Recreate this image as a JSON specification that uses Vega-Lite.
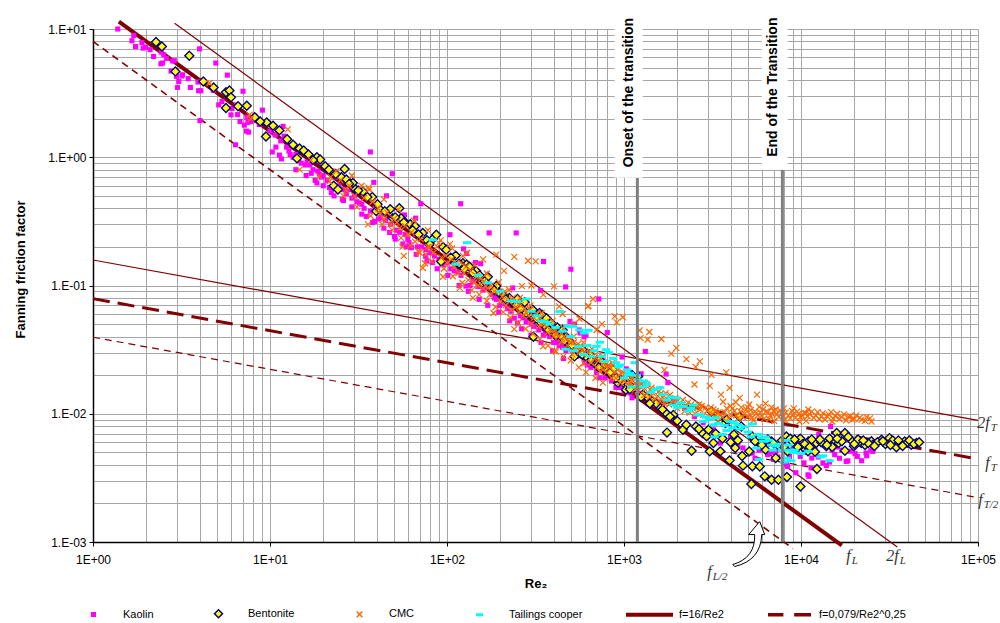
{
  "$schema": "https://vega.github.io/schema/vega-lite/v6.json",
  "width": 885,
  "height": 513,
  "autosize": {"type": "none"},
  "padding": {"left": 93, "top": 29, "right": 22, "bottom": 81},
  "background": "white",
  "config": {
    "view": {"stroke": null},
    "font": "Liberation Sans",
    "axis": {"labelFont": "Liberation Sans", "titleFont": "Liberation Sans", "labelColor": "black", "titleColor": "black"}
  },
  "datasets": {
    "lines": [
      {"g": "fL", "x": 1.4, "y": 11.43}, {"g": "fL", "x": 17000, "y": 0.000941},
      {"g": "f2L", "x": 2.89, "y": 11.07}, {"g": "f2L", "x": 35000, "y": 0.000914},
      {"g": "fhL", "x": 1, "y": 8}, {"g": "fhL", "x": 9000, "y": 0.000889},
      {"g": "fT", "x": 1, "y": 0.079}, {"g": "fT", "x": 100000, "y": 0.00444},
      {"g": "f2T", "x": 1, "y": 0.158}, {"g": "f2T", "x": 100000, "y": 0.00888},
      {"g": "fhT", "x": 1, "y": 0.0395}, {"g": "fhT", "x": 100000, "y": 0.00222}
    ],
    "k": [
      {"x":1.38,"y":10.0},{"x":1.70,"y":8.9},{"x":1.74,"y":7.3},{"x":1.66,"y":8.1},{"x":1.89,"y":7.84},{"x":1.92,"y":7.1},{"x":1.98,"y":7.23},{"x":2.10,"y":6.9},{"x":2.2,"y":6.1},{"x":2.42,"y":5.35},{"x":2.43,"y":6.6},{"x":2.51,"y":6.3},{"x":2.47,"y":5.43},{"x":2.6,"y":5.9},{"x":2.76,"y":4.7},{"x":2.82,"y":5.63},{"x":2.88,"y":5.66},{"x":2.96,"y":4.27},{"x":3.0,"y":3.5},{"x":3.05,"y":3.9},{"x":3.18,"y":4.3},{"x":3.2,"y":4.4},{"x":3.45,"y":4.1},{"x":3.55,"y":3.5},{"x":3.92,"y":3.86},{"x":3.95,"y":3.3},{"x":4.07,"y":3.3},{"x":4.0,"y":7.0},{"x":4.02,"y":1.93},{"x":4.1,"y":3.9},{"x":4.78,"y":3.32},{"x":4.94,"y":5.43},{"x":5.13,"y":2.56},{"x":5.35,"y":2.72},{"x":5.74,"y":4.37},{"x":6.02,"y":2.14},{"x":6.1,"y":2.4},{"x":6.39,"y":1.25},{"x":6.45,"y":2.56},{"x":6.56,"y":2.15},{"x":6.77,"y":1.9},{"x":7.04,"y":3.27},{"x":7.16,"y":1.78},{"x":7.37,"y":1.6},{"x":7.4,"y":2.05},{"x":7.5,"y":1.87},{"x":7.57,"y":1.57},{"x":7.8,"y":1.9},{"x":8.2,"y":2.1},{"x":8.7,"y":1.8},{"x":9.06,"y":2.33},{"x":10.0,"y":1.6},{"x":10.3,"y":1.1},{"x":10.7,"y":1.49},{"x":10.8,"y":1.2},{"x":11.3,"y":1.04},{"x":11.5,"y":1.34},{"x":11.6,"y":0.97},{"x":11.85,"y":1.74},{"x":12.0,"y":1.46},{"x":12.3,"y":1.37},{"x":12.4,"y":1.2},{"x":12.8,"y":1.12},{"x":13.5,"y":1.0},{"x":14.5,"y":0.95},{"x":15.8,"y":0.87},{"x":16.2,"y":0.92},{"x":16.8,"y":0.87},{"x":17.1,"y":0.75},{"x":18.4,"y":0.63},{"x":18.6,"y":0.78},{"x":19.5,"y":0.7},{"x":20,"y":0.72},{"x":21.7,"y":0.58},{"x":22.2,"y":0.53},{"x":23.9,"y":0.7},{"x":24.5,"y":0.6},{"x":25.6,"y":0.47},{"x":26,"y":0.56},{"x":27.6,"y":0.56},{"x":29,"y":0.48},{"x":30,"y":0.5},{"x":31,"y":0.45},{"x":33,"y":0.43},{"x":35,"y":0.345},{"x":36.9,"y":1.099},{"x":38.6,"y":0.637},{"x":39,"y":0.316},{"x":39.5,"y":0.41},{"x":42,"y":0.34},{"x":43,"y":0.36},{"x":45,"y":0.32},{"x":45.5,"y":0.5},{"x":47.4,"y":0.259},{"x":49.1,"y":0.744},{"x":50.5,"y":0.241},{"x":52,"y":0.27},{"x":56.3,"y":0.211},{"x":57.5,"y":0.355},{"x":58,"y":0.25},{"x":61,"y":0.216},{"x":63,"y":0.197},{"x":66.5,"y":0.335},{"x":66.8,"y":0.249},{"x":68,"y":0.2},{"x":71.1,"y":0.434},{"x":75.6,"y":0.169},{"x":76,"y":0.19},{"x":83,"y":0.151},{"x":85,"y":0.17},{"x":90,"y":0.16},{"x":100,"y":0.15},{"x":104,"y":0.249},{"x":110,"y":0.13},{"x":115,"y":0.128},{"x":119.5,"y":0.434},{"x":124,"y":0.193},{"x":128,"y":0.099},{"x":129,"y":0.178},{"x":135,"y":0.1},{"x":140,"y":0.108},{"x":145,"y":0.151},{"x":155,"y":0.148},{"x":160,"y":0.092},{"x":167,"y":0.098},{"x":173,"y":0.257},{"x":180,"y":0.085},{"x":185,"y":0.08},{"x":198,"y":0.0697},{"x":210,"y":0.072},{"x":230,"y":0.063},{"x":235,"y":0.0957},{"x":240,"y":0.0556},{"x":246,"y":0.257},{"x":250,"y":0.051},{"x":270,"y":0.056},{"x":280,"y":0.052},{"x":300,"y":0.05},{"x":330,"y":0.045},{"x":338,"y":0.0914},{"x":351,"y":0.154},{"x":360,"y":0.042},{"x":380,"y":0.04},{"x":400,"y":0.036},{"x":420,"y":0.036},{"x":450,"y":0.033},{"x":468,"y":0.0974},{"x":470,"y":0.031},{"x":495,"y":0.0525},{"x":501,"y":0.134},{"x":525,"y":0.05},{"x":540,"y":0.028},{"x":560,"y":0.045},{"x":565,"y":0.0426},{"x":595,"y":0.0398},{"x":600,"y":0.025},{"x":610,"y":0.041},{"x":650,"y":0.023},{"x":720,"y":0.0785},{"x":730,"y":0.0191},{"x":805,"y":0.043},{"x":850,"y":0.018},{"x":900,"y":0.016},{"x":975,"y":0.0277},{"x":1000,"y":0.015},{"x":1030,"y":0.0224},{"x":1110,"y":0.0133},{"x":1200,"y":0.0145},{"x":1250,"y":0.0205},{"x":1300,"y":0.0173},{"x":1320,"y":0.0306},{"x":1500,"y":0.0125},{"x":1650,"y":0.0115},{"x":1730,"y":0.0204},{"x":1770,"y":0.0175},{"x":1900,"y":0.013},{"x":2200,"y":0.011},{"x":2500,"y":0.0095},{"x":2800,"y":0.0085},{"x":3200,"y":0.0075},{"x":3500,"y":0.0059},{"x":4000,"y":0.0066},{"x":4400,"y":0.0058},{"x":4700,"y":0.00541},{"x":5300,"y":0.00492},{"x":5800,"y":0.0052},{"x":6000,"y":0.0062},{"x":6480,"y":0.0048},{"x":6500,"y":0.00577},{"x":7000,"y":0.0044},{"x":7200,"y":0.00509},{"x":7560,"y":0.00558},{"x":8000,"y":0.0058},{"x":8300,"y":0.004},{"x":8400,"y":0.00388},{"x":8600,"y":0.00465},{"x":9000,"y":0.0055},{"x":9350,"y":0.00347},{"x":9900,"y":0.00465},{"x":10400,"y":0.00414},{"x":10950,"y":0.00334},{"x":11100,"y":0.00325},{"x":11400,"y":0.00378},{"x":11500,"y":0.00451},{"x":12000,"y":0.0052},{"x":12600,"y":0.0069},{"x":13300,"y":0.00414},{"x":13900,"y":0.00394},{"x":14500,"y":0.0042},{"x":14700,"y":0.00795},{"x":15500,"y":0.0048},{"x":16000,"y":0.0055},{"x":17000,"y":0.0052},{"x":18000,"y":0.00425},{"x":18400,"y":0.00429},{"x":20200,"y":0.00488},{"x":20800,"y":0.00465},{"x":22000,"y":0.0043},{"x":23300,"y":0.00494},{"x":23500,"y":0.0047},{"x":24800,"y":0.00515},{"x":25500,"y":0.00509},
      {"x":13,"y":1.05},{"x":14,"y":1.05},{"x":15,"y":0.9},{"x":17.5,"y":0.8},{"x":19,"y":0.74},{"x":21,"y":0.66},{"x":23,"y":0.6},{"x":27,"y":0.52},{"x":32,"y":0.44},{"x":34,"y":0.4},{"x":37,"y":0.38},{"x":41,"y":0.33},{"x":48,"y":0.3},{"x":54,"y":0.26},{"x":60,"y":0.23},{"x":72,"y":0.2},{"x":80,"y":0.18},{"x":95,"y":0.145},{"x":105,"y":0.135},{"x":120,"y":0.12},{"x":150,"y":0.098},{"x":190,"y":0.078},{"x":220,"y":0.066},{"x":260,"y":0.058},{"x":310,"y":0.048},{"x":350,"y":0.041},{"x":430,"y":0.034},{"x":520,"y":0.029},{"x":620,"y":0.024},{"x":700,"y":0.021},{"x":780,"y":0.019},{"x":950,"y":0.016},{"x":1080,"y":0.0145},{"x":5500,"y":0.0045},{"x":6200,"y":0.0054},{"x":6800,"y":0.005},{"x":7400,"y":0.0046},{"x":9500,"y":0.0051},{"x":10500,"y":0.0057},{"x":12500,"y":0.0046},{"x":15000,"y":0.0052},{"x":19000,"y":0.0051},{"x":16500,"y":0.0045},
      {"x":14,"y":0.8},{"x":16,"y":0.72},{"x":18,"y":0.66},{"x":20,"y":0.6},{"x":23,"y":0.5},{"x":26,"y":0.46},{"x":29,"y":0.41},{"x":33,"y":0.36},{"x":38,"y":0.31},{"x":44,"y":0.28},{"x":51,"y":0.23},{"x":59,"y":0.2},{"x":67,"y":0.175},{"x":77,"y":0.155},{"x":88,"y":0.135},{"x":101,"y":0.12},{"x":117,"y":0.1},{"x":132,"y":0.09},{"x":152,"y":0.078},{"x":170,"y":0.07},{"x":196,"y":0.062},{"x":226,"y":0.053},{"x":264,"y":0.046},{"x":298,"y":0.041},{"x":340,"y":0.036},{"x":395,"y":0.031},{"x":455,"y":0.027}
    ],
    "b": [
      {"x":2.27,"y":7.92},{"x":2.45,"y":7.31},{"x":2.92,"y":4.67},{"x":3.5,"y":6.19},{"x":5.64,"y":3.21},{"x":5.9,"y":3.32},{"x":6.02,"y":2.93},{"x":5.64,"y":2.42},{"x":7.39,"y":2.52},{"x":9.58,"y":1.87},{"x":10.4,"y":1.76},{"x":11.3,"y":1.62},{"x":9.49,"y":1.45},{"x":14.7,"y":1.17},{"x":15.5,"y":1.13},{"x":14.2,"y":0.98},{"x":18.4,"y":1.0},{"x":19.2,"y":0.96},{"x":22.9,"y":0.6},{"x":24.2,"y":0.56},{"x":25.3,"y":0.7},{"x":26.4,"y":0.81},{"x":27,"y":0.67},{"x":29.4,"y":0.63},{"x":30.4,"y":0.56},{"x":33.5,"y":0.54},{"x":37.8,"y":0.49},{"x":39.8,"y":0.38},{"x":42,"y":0.39},{"x":47.8,"y":0.394},{"x":49.4,"y":0.335},{"x":53.8,"y":0.40},{"x":55,"y":0.335},{"x":58,"y":0.31},{"x":62,"y":0.30},{"x":66,"y":0.29},{"x":73,"y":0.257},{"x":83,"y":0.23},{"x":87,"y":0.249},{"x":92.6,"y":0.154},{"x":95,"y":0.2},{"x":99,"y":0.19},{"x":112,"y":0.171},{"x":123,"y":0.149},{"x":129,"y":0.146},{"x":134,"y":0.14},{"x":146,"y":0.13},{"x":153,"y":0.12},{"x":158,"y":0.105},{"x":170,"y":0.117},{"x":190,"y":0.099},{"x":198,"y":0.0875},{"x":225,"y":0.08},{"x":250,"y":0.0785},{"x":275,"y":0.074},{"x":305,"y":0.0647},{"x":308,"y":0.0398},{"x":333,"y":0.061},{"x":345,"y":0.059},{"x":365,"y":0.0556},{"x":388,"y":0.0509},{"x":420,"y":0.047},{"x":432,"y":0.0426},{"x":450,"y":0.045},{"x":470,"y":0.0398},{"x":490,"y":0.037},{"x":525,"y":0.028},{"x":560,"y":0.03},{"x":583,"y":0.0316},{"x":640,"y":0.0289},{"x":700,"y":0.024},{"x":730,"y":0.0264},{"x":765,"y":0.024},{"x":800,"y":0.0215},{"x":865,"y":0.0221},{"x":925,"y":0.0174},{"x":1000,"y":0.0175},{"x":1025,"y":0.0154},{"x":1110,"y":0.0201},{"x":1200,"y":0.0195},{"x":1280,"y":0.0141},{"x":1450,"y":0.0125},{"x":1600,"y":0.0112},{"x":1730,"y":0.0101},{"x":1750,"y":0.00713},{"x":1900,"y":0.0098},{"x":2150,"y":0.0075},{"x":2410,"y":0.00515},{"x":2550,"y":0.00795},{"x":2780,"y":0.00705},{"x":2930,"y":0.00666},{"x":3050,"y":0.00509},{"x":3120,"y":0.0104},{"x":3200,"y":0.00591},{"x":3400,"y":0.0094},{"x":3500,"y":0.00509},{"x":3740,"y":0.00847},{"x":3800,"y":0.009},{"x":3950,"y":0.00433},{"x":4180,"y":0.00688},{"x":4250,"y":0.00541},{"x":4500,"y":0.0095},{"x":4600,"y":0.00795},{"x":4650,"y":0.00469},{"x":4700,"y":0.00394},{"x":5100,"y":0.00509},{"x":5245,"y":0.00283},{"x":5300,"y":0.00666},{"x":5310,"y":0.0039},{"x":5800,"y":0.00591},{"x":5850,"y":0.00388},{"x":6240,"y":0.00325},{"x":6300,"y":0.00525},{"x":6800,"y":0.00609},{"x":6820,"y":0.00306},{"x":7200,"y":0.00451},{"x":7450,"y":0.00306},{"x":7550,"y":0.00558},{"x":8270,"y":0.00666},{"x":8330,"y":0.00321},{"x":8400,"y":0.00509},{"x":8700,"y":0.0064},{"x":9350,"y":0.00591},{"x":9930,"y":0.00271},{"x":9900,"y":0.0064},{"x":10200,"y":0.0058},{"x":10600,"y":0.00525},{"x":10950,"y":0.00509},{"x":11000,"y":0.00609},{"x":12200,"y":0.00591},{"x":12300,"y":0.00371},{"x":12000,"y":0.00505},{"x":13900,"y":0.00558},{"x":15600,"y":0.00599},{"x":15900,"y":0.00708},{"x":16300,"y":0.00591},{"x":17700,"y":0.00708},{"x":17700,"y":0.00515},{"x":19500,"y":0.00609},{"x":19900,"y":0.00558},{"x":21900,"y":0.00591},{"x":23000,"y":0.0057},{"x":25000,"y":0.0061},{"x":25500,"y":0.00574},{"x":28500,"y":0.00627},{"x":31600,"y":0.00646},{"x":34600,"y":0.00547},{"x":38500,"y":0.00609},{"x":42000,"y":0.00574},{"x":44900,"y":0.00591},
      {"x":16.5,"y":1.05},{"x":17.5,"y":0.95},{"x":20.5,"y":0.85},{"x":21.5,"y":0.8},{"x":23.5,"y":0.74},{"x":28,"y":0.62},{"x":31.5,"y":0.55},{"x":35.5,"y":0.49},{"x":40.5,"y":0.43},{"x":44.5,"y":0.38},{"x":51,"y":0.34},{"x":57,"y":0.31},{"x":64,"y":0.27},{"x":69,"y":0.25},{"x":77,"y":0.225},{"x":80,"y":0.21},{"x":105,"y":0.165},{"x":117,"y":0.148},{"x":140,"y":0.125},{"x":163,"y":0.108},{"x":178,"y":0.097},{"x":210,"y":0.083},{"x":238,"y":0.073},{"x":262,"y":0.066},{"x":290,"y":0.06},{"x":320,"y":0.055},{"x":355,"y":0.049},{"x":400,"y":0.044},{"x":440,"y":0.04},{"x":510,"y":0.034},{"x":545,"y":0.032},{"x":610,"y":0.028},{"x":670,"y":0.026},{"x":830,"y":0.021},{"x":950,"y":0.0185},{"x":1060,"y":0.017},{"x":1150,"y":0.016},{"x":1350,"y":0.0135},{"x":1520,"y":0.012},{"x":1650,"y":0.0108},{"x":1820,"y":0.0095},{"x":2000,"y":0.0088},{"x":2250,"y":0.0082},{"x":2650,"y":0.0076},
      {"x":5500,"y":0.0061},{"x":6000,"y":0.0057},{"x":6500,"y":0.0063},{"x":7000,"y":0.0059},{"x":7800,"y":0.0062},{"x":8000,"y":0.0055},{"x":9000,"y":0.006},{"x":9600,"y":0.0055},{"x":10500,"y":0.0058},{"x":11500,"y":0.0063},{"x":13000,"y":0.006},{"x":14500,"y":0.0064},{"x":15000,"y":0.0055},{"x":17000,"y":0.0061},{"x":18500,"y":0.0066},{"x":21000,"y":0.0063},{"x":24000,"y":0.0059},{"x":27000,"y":0.006},{"x":30000,"y":0.0058},{"x":33000,"y":0.0062},{"x":36500,"y":0.0058},{"x":40000,"y":0.006},{"x":3600,"y":0.0064},{"x":4000,"y":0.006},{"x":4400,"y":0.0062},{"x":3000,"y":0.0075},{"x":3300,"y":0.007},
      {"x":4.2,"y":3.9},{"x":4.8,"y":3.5},{"x":6.6,"y":2.5},{"x":8.2,"y":2.05},{"x":8.8,"y":1.9},{"x":12.5,"y":1.38},{"x":13.5,"y":1.25},{"x":125,"y":0.135},{"x":185,"y":0.092},{"x":215,"y":0.078},{"x":245,"y":0.07},{"x":280,"y":0.061},{"x":340,"y":0.051},{"x":375,"y":0.045},{"x":410,"y":0.041},{"x":460,"y":0.037},{"x":580,"y":0.029},{"x":650,"y":0.026},{"x":720,"y":0.023},{"x":900,"y":0.019},{"x":1080,"y":0.0155},{"x":1250,"y":0.0135},{"x":1400,"y":0.012},
      {"x":20000,"y":0.0058},{"x":22500,"y":0.0062},{"x":26000,"y":0.0056},{"x":29000,"y":0.0061},{"x":32000,"y":0.0057},{"x":35500,"y":0.0062},{"x":37500,"y":0.0056},{"x":41000,"y":0.0062},{"x":43500,"y":0.0058},{"x":46500,"y":0.006},{"x":12800,"y":0.0063},{"x":14000,"y":0.0057},{"x":16000,"y":0.0064},{"x":11200,"y":0.0055},{"x":9200,"y":0.0063}
    ],
    "c": [
      {"x":4.55,"y":3.79},{"x":7.66,"y":2.14},{"x":7.8,"y":2.0},{"x":12.6,"y":1.65},{"x":14.7,"y":0.8},{"x":17,"y":0.95},{"x":19,"y":0.71},{"x":21.7,"y":0.65},{"x":23.7,"y":0.78},{"x":27,"y":0.55},{"x":32.9,"y":0.6},{"x":35.8,"y":0.30},{"x":36.3,"y":0.56},{"x":40.8,"y":0.40},{"x":44,"y":0.33},{"x":48,"y":0.3},{"x":52,"y":0.31},{"x":56,"y":0.2},{"x":57,"y":0.17},{"x":60,"y":0.25},{"x":69,"y":0.185},{"x":73,"y":0.137},{"x":75,"y":0.149},{"x":76,"y":0.174},{"x":80,"y":0.2},{"x":90,"y":0.215},{"x":95,"y":0.117},{"x":100,"y":0.15},{"x":104,"y":0.21},{"x":110,"y":0.14},{"x":118,"y":0.0957},{"x":120,"y":0.15},{"x":125,"y":0.125},{"x":132,"y":0.11},{"x":140,"y":0.08},{"x":145,"y":0.12},{"x":150,"y":0.1},{"x":160,"y":0.095},{"x":165,"y":0.1},{"x":175,"y":0.085},{"x":183,"y":0.061},{"x":190,"y":0.174},{"x":195,"y":0.09},{"x":200,"y":0.075},{"x":215,"y":0.07},{"x":220,"y":0.078},{"x":230,"y":0.064},{"x":240,"y":0.167},{"x":240,"y":0.0457},{"x":255,"y":0.062},{"x":260,"y":0.07},{"x":265,"y":0.0989},{"x":270,"y":0.058},{"x":280,"y":0.062},{"x":287,"y":0.156},{"x":300,"y":0.05},{"x":310,"y":0.056},{"x":317,"y":0.154},{"x":330,"y":0.048},{"x":340,"y":0.05},{"x":349,"y":0.0335},{"x":360,"y":0.052},{"x":370,"y":0.043},{"x":390,"y":0.044},{"x":400,"y":0.04},{"x":402,"y":0.0984},{"x":413,"y":0.0306},{"x":420,"y":0.042},{"x":430,"y":0.0687},{"x":440,"y":0.036},{"x":460,"y":0.04},{"x":480,"y":0.034},{"x":500,"y":0.036},{"x":510,"y":0.029},{"x":530,"y":0.031},{"x":540,"y":0.033},{"x":560,"y":0.03},{"x":580,"y":0.031},{"x":595,"y":0.0247},{"x":620,"y":0.029},{"x":625,"y":0.0687},{"x":630,"y":0.0693},{"x":650,"y":0.025},{"x":668,"y":0.0785},{"x":680,"y":0.027},{"x":700,"y":0.023},{"x":720,"y":0.026},{"x":730,"y":0.0214},{"x":760,"y":0.022},{"x":780,"y":0.024},{"x":800,"y":0.021},{"x":830,"y":0.023},{"x":850,"y":0.019},{"x":880,"y":0.021},{"x":886,"y":0.0574},{"x":900,"y":0.019},{"x":910,"y":0.0516},{"x":940,"y":0.02},{"x":950,"y":0.0175},{"x":984,"y":0.0566},{"x":1000,"y":0.018},{"x":1020,"y":0.019},{"x":1050,"y":0.017},{"x":1080,"y":0.0175},{"x":1100,"y":0.0165},{"x":1130,"y":0.018},{"x":1150,"y":0.0155},{"x":1180,"y":0.0165},{"x":1200,"y":0.015},{"x":1227,"y":0.0447},{"x":1240,"y":0.039},{"x":1250,"y":0.016},{"x":1300,"y":0.014},{"x":1320,"y":0.0155},{"x":1360,"y":0.0379},{"x":1390,"y":0.0434},{"x":1400,"y":0.0135},{"x":1450,"y":0.0145},{"x":1500,"y":0.013},{"x":1550,"y":0.0138},{"x":1600,"y":0.0125},{"x":1626,"y":0.0383},{"x":1650,"y":0.0135},{"x":1690,"y":0.022},{"x":1700,"y":0.012},{"x":1750,"y":0.013},{"x":1800,"y":0.0118},{"x":1850,"y":0.0294},{"x":1900,"y":0.0125},{"x":1977,"y":0.0326},{"x":2000,"y":0.011},{"x":2050,"y":0.012},{"x":2100,"y":0.0115},{"x":2200,"y":0.0105},{"x":2250,"y":0.0115},{"x":2252,"y":0.0267},{"x":2350,"y":0.0102},{"x":2450,"y":0.011},{"x":2500,"y":0.0169},{"x":2520,"y":0.01},{"x":2540,"y":0.0232},{"x":2600,"y":0.0112},{"x":2680,"y":0.0256},{"x":2700,"y":0.0108},{"x":2800,"y":0.0098},{"x":2900,"y":0.0112},{"x":3000,"y":0.0095},{"x":3050,"y":0.0165},{"x":3120,"y":0.0201},{"x":3200,"y":0.0108},{"x":3400,"y":0.0102},{"x":3530,"y":0.0141},{"x":3600,"y":0.0094},{"x":3630,"y":0.0124},{"x":3780,"y":0.021},{"x":3800,"y":0.011},{"x":3950,"y":0.0159},{"x":4000,"y":0.0099},{"x":4200,"y":0.0105},{"x":4280,"y":0.0123},{"x":4400,"y":0.0092},{"x":4500,"y":0.0133},{"x":4600,"y":0.0112},{"x":4800,"y":0.01},{"x":5000,"y":0.0095},{"x":5100,"y":0.0118},{"x":5200,"y":0.0107},{"x":5400,"y":0.0089},{"x":5600,"y":0.0101},{"x":5640,"y":0.0141},{"x":5800,"y":0.0113},{"x":6000,"y":0.0096},{"x":6300,"y":0.012},{"x":6350,"y":0.0104},{"x":6600,"y":0.0091},{"x":6900,"y":0.0099},{"x":7200,"y":0.0108},{"x":7500,"y":0.0094},{"x":7800,"y":0.0101},{"x":8100,"y":0.0089},{"x":8500,"y":0.0097},{"x":8900,"y":0.0105},{"x":9100,"y":0.011},{"x":9300,"y":0.0093},{"x":9700,"y":0.01},{"x":10200,"y":0.0096},{"x":10650,"y":0.0101},{"x":10700,"y":0.0088},{"x":11200,"y":0.0099},{"x":11800,"y":0.0093},{"x":12400,"y":0.0103},{"x":13000,"y":0.0095},{"x":13700,"y":0.009},{"x":14400,"y":0.0098},{"x":15200,"y":0.0092},{"x":16000,"y":0.01},{"x":17000,"y":0.0094},{"x":18000,"y":0.0089},{"x":19000,"y":0.0096},{"x":20000,"y":0.0091},{"x":21500,"y":0.0093},{"x":23000,"y":0.0088},{"x":24500,"y":0.0092},
      {"x":22,"y":0.7},{"x":25,"y":0.66},{"x":28,"y":0.6},{"x":30,"y":0.5},{"x":34,"y":0.48},{"x":38,"y":0.45},{"x":42,"y":0.36},{"x":46,"y":0.37},{"x":50,"y":0.33},{"x":54,"y":0.28},{"x":58,"y":0.29},{"x":63,"y":0.26},{"x":66,"y":0.22},{"x":71,"y":0.23},{"x":78,"y":0.2},{"x":84,"y":0.18},{"x":88,"y":0.2},{"x":93,"y":0.165},{"x":98,"y":0.17},{"x":106,"y":0.16},{"x":113,"y":0.15},{"x":116,"y":0.125},{"x":128,"y":0.14},{"x":136,"y":0.13},{"x":142,"y":0.105},{"x":148,"y":0.118},{"x":155,"y":0.112},{"x":162,"y":0.108},{"x":170,"y":0.095},{"x":178,"y":0.1},{"x":186,"y":0.09},{"x":205,"y":0.082},{"x":212,"y":0.09},{"x":225,"y":0.075},{"x":235,"y":0.08},{"x":245,"y":0.068},{"x":250,"y":0.075},{"x":275,"y":0.066},{"x":290,"y":0.058},{"x":295,"y":0.065},{"x":320,"y":0.06},{"x":335,"y":0.056},{"x":350,"y":0.05},{"x":365,"y":0.048},{"x":380,"y":0.05},{"x":410,"y":0.045},{"x":425,"y":0.04},{"x":445,"y":0.042},{"x":470,"y":0.038},{"x":490,"y":0.039},{"x":520,"y":0.036},{"x":550,"y":0.035},{"x":570,"y":0.033},{"x":600,"y":0.03},{"x":640,"y":0.031},{"x":660,"y":0.028},{"x":690,"y":0.029},{"x":740,"y":0.027},{"x":770,"y":0.025},{"x":820,"y":0.024},{"x":860,"y":0.025},{"x":920,"y":0.022},{"x":970,"y":0.021},{"x":1060,"y":0.02},{"x":1120,"y":0.019},{"x":1280,"y":0.0175},{"x":1350,"y":0.017},{"x":1430,"y":0.016},{"x":1520,"y":0.0155},{"x":1580,"y":0.015},{"x":1720,"y":0.0145},{"x":1820,"y":0.014},{"x":1950,"y":0.0132},{"x":2150,"y":0.0128},{"x":2300,"y":0.0122},{"x":2400,"y":0.0118},{"x":2650,"y":0.0118},{"x":2750,"y":0.0115},{"x":2950,"y":0.0105},{"x":3100,"y":0.0112},{"x":3300,"y":0.0098},
      {"x":130,"y":0.18},{"x":160,"y":0.16},{"x":210,"y":0.13},{"x":300,"y":0.1},{"x":350,"y":0.085},{"x":450,"y":0.06},{"x":520,"y":0.05},{"x":560,"y":0.055},{"x":700,"y":0.045},{"x":750,"y":0.05},
      {"x":3150,"y":0.0099},{"x":3300,"y":0.0105},{"x":3500,"y":0.0099},{"x":3700,"y":0.0103},{"x":3900,"y":0.0092},{"x":4100,"y":0.011},{"x":4300,"y":0.0097},{"x":4550,"y":0.0104},{"x":4700,"y":0.0094},{"x":4900,"y":0.0108},{"x":5150,"y":0.0099},{"x":5300,"y":0.0093},{"x":5500,"y":0.0104},{"x":5700,"y":0.0097},{"x":5900,"y":0.0102},{"x":6100,"y":0.0108},{"x":6200,"y":0.0092},{"x":6500,"y":0.0103},{"x":6700,"y":0.0097},{"x":7000,"y":0.0105},{"x":7300,"y":0.0099},{"x":7600,"y":0.0106},{"x":7900,"y":0.0096},{"x":8200,"y":0.0102},{"x":8700,"y":0.0092},{"x":9000,"y":0.0099},{"x":9500,"y":0.0104},{"x":9900,"y":0.0094},{"x":10400,"y":0.0102},{"x":10900,"y":0.0096},{"x":11500,"y":0.0104},{"x":12100,"y":0.0097},{"x":12700,"y":0.0091},{"x":13300,"y":0.0101},{"x":14000,"y":0.0096},{"x":14800,"y":0.0103},{"x":15600,"y":0.0096},{"x":16500,"y":0.0091},{"x":17500,"y":0.0099},{"x":18500,"y":0.0095},{"x":19500,"y":0.009},{"x":20500,"y":0.0097},{"x":22000,"y":0.009},{"x":23500,"y":0.0094},{"x":25000,"y":0.0087},{"x":4000,"y":0.0115},{"x":5000,"y":0.0112},{"x":6800,"y":0.0112},{"x":8000,"y":0.011},{"x":11000,"y":0.0108},{"x":3400,"y":0.0087},{"x":7050,"y":0.0088},{"x":9800,"y":0.0087},{"x":15000,"y":0.0087},
      {"x":26,"y":0.5},{"x":31,"y":0.41},{"x":37,"y":0.35},{"x":43,"y":0.3},{"x":49,"y":0.27},{"x":55,"y":0.235},{"x":62,"y":0.205},{"x":70,"y":0.18},{"x":82,"y":0.155},{"x":96,"y":0.135},{"x":108,"y":0.118},{"x":122,"y":0.105},{"x":138,"y":0.092},{"x":152,"y":0.085},{"x":168,"y":0.076},{"x":188,"y":0.068},{"x":208,"y":0.062},{"x":228,"y":0.056},{"x":252,"y":0.051},{"x":278,"y":0.046},{"x":305,"y":0.042},{"x":335,"y":0.038},{"x":372,"y":0.034},{"x":405,"y":0.031},{"x":455,"y":0.028},{"x":500,"y":0.026},{"x":555,"y":0.023},{"x":610,"y":0.021},{"x":690,"y":0.019},{"x":760,"y":0.0175},
      {"x":29,"y":0.72},{"x":36,"y":0.58},{"x":44,"y":0.47},{"x":53,"y":0.39},{"x":65,"y":0.32},{"x":78,"y":0.27},{"x":92,"y":0.225},{"x":107,"y":0.195},{"x":123,"y":0.17},{"x":143,"y":0.145},{"x":168,"y":0.124},{"x":196,"y":0.106},{"x":224,"y":0.093},{"x":258,"y":0.08},{"x":296,"y":0.07},{"x":342,"y":0.061},{"x":395,"y":0.053},{"x":455,"y":0.046},{"x":520,"y":0.04},{"x":590,"y":0.036},{"x":660,"y":0.032},{"x":760,"y":0.028},{"x":870,"y":0.024},{"x":990,"y":0.021},{"x":1100,"y":0.0195},{"x":1250,"y":0.0172},{"x":1420,"y":0.0152},{"x":1600,"y":0.0142},{"x":1800,"y":0.0128},{"x":2000,"y":0.0125}
    ],
    "t": [
      {"x":83,"y":0.227},{"x":112,"y":0.147},{"x":130,"y":0.216},{"x":170,"y":0.105},{"x":200,"y":0.09},{"x":230,"y":0.076},{"x":280,"y":0.0785},{"x":300,"y":0.063},{"x":340,"y":0.053},{"x":380,"y":0.05},{"x":410,"y":0.047},{"x":433,"y":0.0628},{"x":468,"y":0.0319},{"x":480,"y":0.048},{"x":516,"y":0.048},{"x":520,"y":0.031},{"x":550,"y":0.0335},{"x":560,"y":0.045},{"x":590,"y":0.029},{"x":595,"y":0.0426},{"x":630,"y":0.0447},{"x":650,"y":0.028},{"x":680,"y":0.031},{"x":700,"y":0.0335},{"x":730,"y":0.0361},{"x":780,"y":0.0256},{"x":790,"y":0.0316},{"x":820,"y":0.03},{"x":870,"y":0.027},{"x":930,"y":0.0232},{"x":950,"y":0.024},{"x":1000,"y":0.019},{"x":1060,"y":0.0201},{"x":1080,"y":0.0207},{"x":1100,"y":0.0162},{"x":1150,"y":0.025},{"x":1200,"y":0.0184},{"x":1280,"y":0.0162},{"x":1350,"y":0.017},{"x":1420,"y":0.0147},{"x":1500,"y":0.0155},{"x":1650,"y":0.0141},{"x":1750,"y":0.0128},{"x":1900,"y":0.0117},{"x":1980,"y":0.0133},{"x":2000,"y":0.0112},{"x":2170,"y":0.0114},{"x":2300,"y":0.0105},{"x":2460,"y":0.0117},{"x":2600,"y":0.0098},{"x":2800,"y":0.0087},{"x":3050,"y":0.0091},{"x":3200,"y":0.0082},{"x":3250,"y":0.0066},{"x":3320,"y":0.0093},{"x":3600,"y":0.0069},{"x":3800,"y":0.0074},{"x":4000,"y":0.0087},{"x":4200,"y":0.0085},{"x":4500,"y":0.0076},{"x":4800,"y":0.0079},{"x":5330,"y":0.0083},{"x":5600,"y":0.0054},{"x":5800,"y":0.0044},{"x":6000,"y":0.0065},{"x":6300,"y":0.0066},{"x":6800,"y":0.0057},{"x":6900,"y":0.0052},{"x":7200,"y":0.0056},{"x":8000,"y":0.0042},{"x":8270,"y":0.0062},{"x":8300,"y":0.0045},{"x":8600,"y":0.0052},{"x":8800,"y":0.0043},{"x":9000,"y":0.005},{"x":9200,"y":0.0052},{"x":12900,"y":0.0046},{"x":13300,"y":0.0047},{"x":14500,"y":0.0043},
      {"x":150,"y":0.12},{"x":250,"y":0.075},{"x":320,"y":0.058},{"x":360,"y":0.052},{"x":450,"y":0.044},{"x":500,"y":0.04},{"x":620,"y":0.034},{"x":750,"y":0.028},{"x":900,"y":0.025},{"x":1040,"y":0.022},{"x":1180,"y":0.02},{"x":1300,"y":0.018},{"x":1600,"y":0.016},{"x":1850,"y":0.0135},{"x":2100,"y":0.0122},{"x":2400,"y":0.011},{"x":2700,"y":0.0098},{"x":2900,"y":0.0094},{"x":3400,"y":0.0084},{"x":3700,"y":0.0081},{"x":4100,"y":0.0078},{"x":4400,"y":0.0082},{"x":5000,"y":0.0072},{"x":5200,"y":0.0066},{"x":5700,"y":0.0069},{"x":6100,"y":0.0061},{"x":6600,"y":0.0062},{"x":7500,"y":0.0058},{"x":7800,"y":0.0052},{"x":8500,"y":0.0057},{"x":10000,"y":0.0049},{"x":11000,"y":0.0051}
    ],
    "boxes": [
      {"x": 886, "x2": 1275, "y": 14.66, "y2": 0.693},
      {"x": 5998, "x2": 8410, "y": 14.66, "y2": 0.80}
    ],
    "rules": [
      {"x": 1190, "y": 0.001, "y2": 0.69},
      {"x": 7850, "y": 0.001, "y2": 0.8}
    ],
    "notes": [
      {"t": "Onset of the transition", "x": 1063, "y": 3.19},
      {"t": "End of the Transition", "x": 6918, "y": 3.52}
    ],
    "curvelabels": [
      {"m": "2f", "s": "T", "x": 116400, "y": 0.00851},
      {"m": "f", "s": "T", "x": 116400, "y": 0.00415},
      {"m": "f", "s": "T/2", "x": 106300, "y": 0.00214},
      {"m": "f", "s": "L", "x": 19090, "y": 0.000782},
      {"m": "2f", "s": "L", "x": 35650, "y": 0.000782},
      {"m": "f", "s": "L/2", "x": 3130, "y": 0.000587}
    ],
    "arrow": [{"x": 5000, "y": 0.00099}]
  },
  "layer": [
    {
      "data": {"name": "lines"},
      "transform": [{"filter": "datum.g == 'fL'"}],
      "mark": {"type": "line", "color": "#800000", "strokeWidth": 4, "strokeCap": "butt"},
      "encoding": {
        "x": {
          "field": "x", "type": "quantitative",
          "scale": {"type": "log", "domain": [1, 100000], "nice": false},
          "axis": {
            "title": "Re₂",
            "titleFontSize": 13, "titleFontWeight": "bold", "titleY": 41, "titleBaseline": "middle",
            "values": [1,2,3,4,5,6,7,8,9,10,20,30,40,50,60,70,80,90,100,200,300,400,500,600,700,800,900,1000,2000,3000,4000,5000,6000,7000,8000,9000,10000,20000,30000,40000,50000,60000,70000,80000,90000,100000],
            "labelExpr": "datum.value == 1 ? '1E+00' : datum.value == 10 ? '1E+01' : datum.value == 100 ? '1E+02' : datum.value == 1000 ? '1E+03' : datum.value == 10000 ? '1E+04' : datum.value == 100000 ? '1E+05' : ''",
            "labelOverlap": false, "labelFlush": false, "labelBound": false,
            "labelFontSize": 12, "labelPadding": 8,
            "grid": true, "gridColor": "#a6a6a6", "gridWidth": 1,
            "domainColor": "black", "domainWidth": 1.5,
            "tickColor": "black", "tickSize": 4,
            "tickOpacity": {"condition": {"test": "indexof([1,10,100,1000,10000,100000], datum.value) >= 0", "value": 1}, "value": 0}
          }
        },
        "y": {
          "field": "y", "type": "quantitative",
          "scale": {"type": "log", "domain": [0.001, 10], "nice": false},
          "axis": {
            "title": "Fanning friction factor",
            "titleFontSize": 13, "titleFontWeight": "bold", "titleX": -73, "titleY": 240, "titleBaseline": "middle", "titleAngle": 270,
            "values": [0.001,0.002,0.003,0.004,0.005,0.006,0.007,0.008,0.009,0.01,0.02,0.03,0.04,0.05,0.06,0.07,0.08,0.09,0.1,0.2,0.3,0.4,0.5,0.6,0.7,0.8,0.9,1,2,3,4,5,6,7,8,9,10],
            "labelExpr": "datum.value == 10 ? '1.E+01' : datum.value == 1 ? '1.E+00' : datum.value == 0.1 ? '1.E-01' : datum.value == 0.01 ? '1.E-02' : datum.value == 0.001 ? '1.E-03' : ''",
            "labelOverlap": false, "labelFlush": false, "labelBound": false,
            "labelFontSize": 12, "labelPadding": 3,
            "grid": true, "gridColor": "#a6a6a6", "gridWidth": 1,
            "domainColor": "black", "domainWidth": 1.5,
            "tickColor": "black", "tickSize": 4,
            "tickOpacity": {"condition": {"test": "indexof([0.001,0.01,0.1,1,10], datum.value) >= 0", "value": 1}, "value": 0}
          }
        }
      }
    },
    {
      "data": {"name": "lines"},
      "transform": [{"filter": "datum.g == 'f2L'"}],
      "mark": {"type": "line", "color": "#800000", "strokeWidth": 1.2},
      "encoding": {"x": {"field": "x", "type": "quantitative"}, "y": {"field": "y", "type": "quantitative"}}
    },
    {
      "data": {"name": "lines"},
      "transform": [{"filter": "datum.g == 'fhL'"}],
      "mark": {"type": "line", "color": "#800000", "strokeWidth": 1.6, "strokeDash": [7, 5]},
      "encoding": {"x": {"field": "x", "type": "quantitative"}, "y": {"field": "y", "type": "quantitative"}}
    },
    {
      "data": {"name": "lines"},
      "transform": [{"filter": "datum.g == 'fT'"}],
      "mark": {"type": "line", "color": "#800000", "strokeWidth": 3, "strokeDash": [17, 8]},
      "encoding": {"x": {"field": "x", "type": "quantitative"}, "y": {"field": "y", "type": "quantitative"}}
    },
    {
      "data": {"name": "lines"},
      "transform": [{"filter": "datum.g == 'f2T'"}],
      "mark": {"type": "line", "color": "#800000", "strokeWidth": 1.2},
      "encoding": {"x": {"field": "x", "type": "quantitative"}, "y": {"field": "y", "type": "quantitative"}}
    },
    {
      "data": {"name": "lines"},
      "transform": [{"filter": "datum.g == 'fhT'"}],
      "mark": {"type": "line", "color": "#800000", "strokeWidth": 1.2, "strokeDash": [7, 5]},
      "encoding": {"x": {"field": "x", "type": "quantitative"}, "y": {"field": "y", "type": "quantitative"}}
    },
    {
      "data": {"name": "k"},
      "mark": {"type": "point", "shape": "square", "filled": true, "color": "#FF00FF", "size": 26, "opacity": 1},
      "encoding": {"x": {"field": "x", "type": "quantitative"}, "y": {"field": "y", "type": "quantitative"}}
    },
    {
      "data": {"name": "b"},
      "mark": {"type": "point", "shape": "diamond", "filled": true, "fill": "#FFFF00", "stroke": "#000080", "strokeWidth": 1.4, "size": 80, "opacity": 1},
      "encoding": {"x": {"field": "x", "type": "quantitative"}, "y": {"field": "y", "type": "quantitative"}}
    },
    {
      "data": {"name": "c"},
      "mark": {"type": "point", "shape": "M-1,-1L1,1M-1,1L1,-1", "filled": false, "stroke": "#FF6600", "strokeWidth": 1.2, "size": 36, "opacity": 1},
      "encoding": {"x": {"field": "x", "type": "quantitative"}, "y": {"field": "y", "type": "quantitative"}}
    },
    {
      "data": {"name": "t"},
      "mark": {"type": "point", "shape": "M-1,-0.35H1V0.35H-1Z", "filled": true, "fill": "#00FFFF", "strokeWidth": 0, "size": 70, "opacity": 1},
      "encoding": {"x": {"field": "x", "type": "quantitative"}, "y": {"field": "y", "type": "quantitative"}}
    },
    {
      "data": {"name": "rules"},
      "mark": {"type": "rule", "color": "#808080", "strokeWidth": 3},
      "encoding": {"x": {"field": "x", "type": "quantitative"}, "y": {"field": "y", "type": "quantitative"}, "y2": {"field": "y2"}}
    },
    {
      "data": {"name": "boxes"},
      "mark": {"type": "rect", "color": "white"},
      "encoding": {"x": {"field": "x", "type": "quantitative"}, "x2": {"field": "x2"}, "y": {"field": "y", "type": "quantitative"}, "y2": {"field": "y2"}}
    },
    {
      "data": {"name": "notes"},
      "mark": {"type": "text", "angle": 270, "align": "center", "baseline": "middle", "font": "Liberation Sans", "fontWeight": "bold", "fontSize": 14, "color": "black"},
      "encoding": {"x": {"field": "x", "type": "quantitative"}, "y": {"field": "y", "type": "quantitative"}, "text": {"field": "t"}}
    },
    {
      "data": {"name": "curvelabels"},
      "mark": {"type": "text", "align": "right", "baseline": "middle", "font": "Liberation Serif", "fontStyle": "italic", "fontSize": 16, "color": "#333333"},
      "encoding": {"x": {"field": "x", "type": "quantitative"}, "y": {"field": "y", "type": "quantitative"}, "text": {"field": "m"}}
    },
    {
      "data": {"name": "curvelabels"},
      "mark": {"type": "text", "align": "left", "baseline": "middle", "dx": 1, "dy": 5, "font": "Liberation Serif", "fontStyle": "italic", "fontSize": 11, "color": "#333333"},
      "encoding": {"x": {"field": "x", "type": "quantitative"}, "y": {"field": "y", "type": "quantitative"}, "text": {"field": "s"}}
    },
    {
      "data": {"name": "arrow"},
      "mark": {"type": "point", "shape": "M0.545,-0.955L0.773,-0.364L0.636,-0.364Q0.6,0.8,-0.59,1.09L-0.68,1.0Q0.35,0.7,0.318,-0.364L0.045,-0.364Z", "filled": true, "fill": "white", "stroke": "black", "strokeWidth": 1, "size": 1936, "opacity": 1},
      "encoding": {"x": {"field": "x", "type": "quantitative"}, "y": {"field": "y", "type": "quantitative"}}
    },
    {
      "data": {"values": []},
      "mark": {"type": "point", "filled": true, "opacity": 1, "strokeWidth": 1.5},
      "encoding": {
        "shape": {
          "field": "s", "type": "nominal",
          "scale": {
            "domain": ["Kaolin", "Bentonite", "CMC", "Tailings cooper", "f=16/Re2", "f=0,079/Re2^0,25"],
            "range": [
              "M-0.106,-0.106H0.106V0.106H-0.106Z",
              "M0,-0.17L0.17,0L0,0.17L-0.17,0Z",
              "M-0.12,-0.12L0.12,0.12M-0.12,0.12L0.12,-0.12",
              "M-0.15,-0.064H0.15V0.064H-0.15Z",
              "M-1,-0.085H1V0.085H-1Z",
              "M-0.915,-0.07H-0.26V0.07H-0.915Z M0.2,-0.07H0.915V0.07H0.2Z"
            ]
          },
          "legend": {
            "title": null, "orient": "none", "legendX": -24, "legendY": 560, "direction": "horizontal",
            "symbolSize": 2209, "symbolStrokeWidth": 1.5, "labelOffset": 5, "columnPadding": 40,
            "labelFont": "Liberation Sans", "labelFontSize": 11, "labelColor": "black", "symbolOpacity": 1
          }
        },
        "fill": {
          "field": "s", "type": "nominal",
          "scale": {
            "domain": ["Kaolin", "Bentonite", "CMC", "Tailings cooper", "f=16/Re2", "f=0,079/Re2^0,25"],
            "range": ["#FF00FF", "#FFFF00", "transparent", "#00FFFF", "#800000", "#800000"]
          },
          "legend": {
            "title": null, "orient": "none", "legendX": -24, "legendY": 560, "direction": "horizontal",
            "symbolSize": 2209, "symbolStrokeWidth": 1.5, "labelOffset": 5, "columnPadding": 40,
            "labelFont": "Liberation Sans", "labelFontSize": 11, "labelColor": "black", "symbolOpacity": 1
          }
        },
        "stroke": {
          "field": "s", "type": "nominal",
          "scale": {
            "domain": ["Kaolin", "Bentonite", "CMC", "Tailings cooper", "f=16/Re2", "f=0,079/Re2^0,25"],
            "range": ["transparent", "#000080", "#FF6600", "transparent", "transparent", "transparent"]
          },
          "legend": {
            "title": null, "orient": "none", "legendX": -24, "legendY": 560, "direction": "horizontal",
            "symbolSize": 2209, "symbolStrokeWidth": 1.5, "labelOffset": 5, "columnPadding": 40,
            "labelFont": "Liberation Sans", "labelFontSize": 11, "labelColor": "black", "symbolOpacity": 1
          }
        }
      }
    }
  ]
}
